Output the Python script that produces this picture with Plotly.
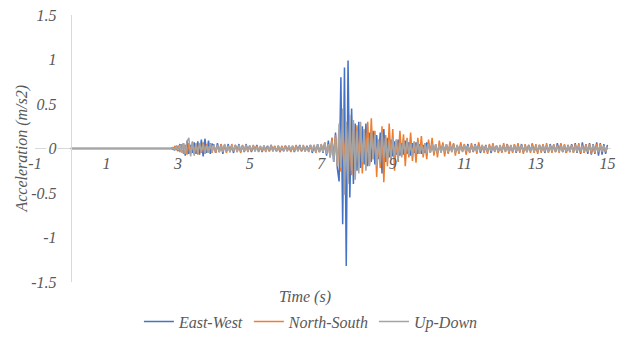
import numpy as np
import plotly.graph_objects as go

# Sample times: a quiet record from 0 s, then samples every 0.05 s from 2.8 s to 15.0 s
t_start, t_step, n_samples = 2.8, 0.05, 245
time = [0.0] + [round(t_start + t_step * i, 2) for i in range(n_samples)]

east_west = [0.0,
    0.0, 0.01, -0.02, 0.03,
    -0.03, 0.05, -0.04, 0.06, -0.08, 0.09, -0.06, 0.04, -0.05, 0.07, -0.06, 0.08, -0.07, 0.10, -0.09, 0.11, -0.05, 0.09, -0.06, 0.05,
    0.04, -0.05, 0.06, -0.04, 0.05, -0.06, 0.04, -0.03, 0.05, -0.04, 0.03, -0.05, 0.04, -0.03, 0.05, -0.04, 0.03, -0.04, 0.05, -0.03,
    0.03, -0.04, 0.03, -0.03, 0.04, -0.03, 0.02, -0.04, 0.03, -0.02, 0.03, -0.03, 0.04, -0.03, 0.02, -0.03, 0.03, -0.04, 0.02, -0.03,
    0.03, -0.02, 0.03, -0.03, 0.02, -0.04, 0.03, -0.02, 0.04, -0.03, 0.02, -0.03, 0.03, -0.02, 0.04, -0.05, 0.03, -0.04, 0.05, -0.04,
    0.04, -0.05, 0.06, -0.08, 0.09, -0.10, 0.12, -0.15, 0.18, -0.22, -0.37, 0.80, -0.85, 0.91, -1.32, 0.99, -0.55, 0.45, -0.40, 0.28,
    -0.25, 0.30, -0.22, 0.25, -0.18, 0.28, -0.20, 0.18, -0.15, 0.20, -0.18, 0.15, -0.12, 0.18, -0.28, 0.22, -0.15, 0.12, -0.10, 0.10,
    -0.09, 0.08, -0.07, 0.10, -0.08, 0.06, -0.07, 0.09, -0.06, 0.07, -0.08, 0.06, -0.05, 0.07, -0.06, 0.05, -0.06, 0.04, -0.05, 0.06,
    0.05, -0.04, 0.06, -0.05, 0.04, -0.05, 0.03, -0.04, 0.05, -0.03, 0.04, -0.05, 0.04, -0.03, 0.05, -0.04, 0.03, -0.04, 0.05, -0.03,
    0.04, -0.03, 0.05, -0.04, 0.03, -0.04, 0.05, -0.03, 0.04, -0.05, 0.03, -0.03, 0.04, -0.04, 0.03, -0.05, 0.04, -0.03, 0.03, -0.04,
    0.03, -0.04, 0.04, -0.03, 0.05, -0.04, 0.03, -0.03, 0.04, -0.05, 0.04, -0.03, 0.05, -0.04, 0.03, -0.04, 0.04, -0.03, 0.05, -0.04,
    0.03, -0.04, 0.04, -0.03, 0.04, -0.05, 0.03, -0.04, 0.05, -0.03, 0.04, -0.04, 0.06, -0.03, 0.05, -0.04, 0.03, -0.05, 0.04, -0.04,
    0.05, -0.04, 0.06, -0.05, 0.04, -0.06, 0.07, -0.05, 0.05, -0.06, 0.06, -0.07, 0.05, -0.06, 0.07, -0.08, 0.06, -0.07, 0.05, -0.06,
    0.04]

north_south = [0.0,
    0.0, -0.01, 0.02, -0.02,
    0.03, -0.04, 0.05, -0.06, 0.04, -0.07, 0.06, -0.05, 0.08, -0.06, 0.05, -0.07, 0.06, -0.05, 0.07, -0.06, 0.05, -0.04, 0.06, -0.05,
    0.04, -0.05, 0.03, -0.04, 0.05, -0.03, 0.04, -0.05, 0.03, -0.04, 0.05, -0.03, 0.04, -0.04, 0.03, -0.05, 0.04, -0.03, 0.04, -0.04,
    0.03, -0.03, 0.04, -0.02, 0.03, -0.04, 0.02, -0.03, 0.03, -0.04, 0.02, -0.03, 0.04, -0.02, 0.03, -0.03, 0.02, -0.04, 0.03, -0.02,
    0.03, -0.03, 0.02, -0.04, 0.03, -0.02, 0.04, -0.03, 0.02, -0.03, 0.04, -0.03, 0.02, -0.04, 0.03, -0.03, 0.04, -0.05, 0.03, -0.04,
    0.05, -0.03, 0.07, -0.05, 0.04, -0.09, 0.12, -0.08, 0.15, -0.20, 0.10, -0.26, 0.18, -0.12, 0.28, -0.22, 0.15, -0.30, 0.20, -0.10,
    0.26, -0.15, 0.12, -0.28, 0.20, -0.08, 0.30, -0.18, 0.34, -0.12, 0.20, -0.32, 0.10, -0.22, 0.25, -0.38, 0.15, -0.20, 0.28, -0.12,
    0.22, -0.25, 0.10, -0.15, 0.20, -0.08, 0.16, -0.20, 0.12, -0.10, 0.18, -0.14, 0.08, -0.16, 0.12, -0.06, 0.14, -0.10, 0.06, -0.12,
    0.10, -0.05, 0.12, -0.08, 0.05, -0.10, 0.09, -0.04, 0.07, -0.09, 0.05, -0.06, 0.08, -0.04, 0.06, -0.08, 0.04, -0.06, 0.07, -0.03,
    0.05, -0.07, 0.03, -0.05, 0.06, -0.03, 0.04, -0.06, 0.07, -0.02, 0.04, -0.05, 0.03, -0.06, 0.05, -0.03, 0.06, -0.04, 0.03, -0.05,
    0.04, -0.05, 0.06, -0.04, 0.05, -0.06, 0.04, -0.05, 0.05, -0.04, 0.06, -0.05, 0.04, -0.06, 0.05, -0.04, 0.04, -0.05, 0.06, -0.05,
    0.05, -0.06, 0.04, -0.05, 0.05, -0.04, 0.06, -0.05, 0.04, -0.05, 0.05, -0.04, 0.04, -0.05, 0.06, -0.04, 0.05, -0.05, 0.04, -0.04,
    0.04, -0.05, 0.05, -0.04, 0.06, -0.05, 0.04, -0.05, 0.05, -0.04, 0.05, -0.06, 0.04, -0.05, 0.05, -0.04, 0.05, -0.04, 0.03, -0.04,
    0.02]

up_down = [0.0,
    0.0, 0.01, -0.01, 0.02,
    -0.02, 0.04, -0.05, 0.06, -0.06, 0.08, 0.12, -0.09, 0.07, -0.08, 0.06, -0.05, 0.06, -0.04, 0.05, -0.06, 0.04, -0.05, 0.05, -0.04,
    0.04, -0.03, 0.04, -0.04, 0.03, -0.04, 0.05, -0.03, 0.03, -0.04, 0.04, -0.03, 0.03, -0.04, 0.04, -0.03, 0.03, -0.03, 0.04, -0.03,
    0.03, -0.02, 0.03, -0.03, 0.02, -0.03, 0.03, -0.02, 0.03, -0.03, 0.02, -0.02, 0.03, -0.03, 0.02, -0.03, 0.03, -0.02, 0.02, -0.03,
    0.02, -0.03, 0.03, -0.02, 0.03, -0.03, 0.02, -0.03, 0.03, -0.02, 0.03, -0.03, 0.02, -0.03, 0.04, -0.03, 0.04, -0.04, 0.05, -0.04,
    0.05, -0.04, 0.07, -0.06, 0.05, -0.10, 0.08, -0.15, 0.12, -0.20, 0.28, -0.22, 0.45, -0.52, 0.30, -0.40, 0.38, -0.25, 0.32, -0.35,
    0.20, -0.28, 0.30, -0.15, 0.22, -0.25, 0.12, -0.20, 0.20, -0.12, 0.16, -0.20, 0.10, -0.16, 0.18, -0.10, 0.12, -0.15, 0.08, -0.12,
    0.12, -0.08, 0.10, -0.12, 0.06, -0.10, 0.09, -0.06, 0.10, -0.07, 0.05, -0.09, 0.07, -0.05, 0.08, -0.06, 0.04, -0.07, 0.06, -0.05,
    0.05, -0.05, 0.05, -0.04, 0.05, -0.05, 0.04, -0.05, 0.04, -0.04, 0.05, -0.04, 0.04, -0.04, 0.04, -0.05, 0.04, -0.04, 0.03, -0.04,
    0.04, -0.03, 0.03, -0.04, 0.03, -0.03, 0.04, -0.03, 0.03, -0.03, 0.04, -0.03, 0.03, -0.04, 0.03, -0.03, 0.04, -0.03, 0.03, -0.03,
    0.03, -0.03, 0.04, -0.03, 0.03, -0.04, 0.03, -0.03, 0.04, -0.03, 0.03, -0.03, 0.04, -0.03, 0.03, -0.04, 0.03, -0.03, 0.03, -0.04,
    0.03, -0.03, 0.04, -0.03, 0.03, -0.03, 0.04, -0.04, 0.03, -0.03, 0.04, -0.03, 0.03, -0.04, 0.03, -0.03, 0.04, -0.03, 0.03, -0.03,
    0.03, -0.04, 0.03, -0.03, 0.04, -0.03, 0.03, -0.04, 0.03, -0.03, 0.04, -0.03, 0.04, -0.04, 0.03, -0.04, 0.04, -0.03, 0.03, -0.03,
    0.02]

series_names = ["East-West", "North-South", "Up-Down"]
series_values = [east_west, north_south, up_down]
series_colors = ["#4472C4", "#ED7D31", "#A5A5A5"]

x_tick_values = [-1, 1, 3, 5, 7, 9, 11, 13, 15]
x_tick_labels = ["-1", "1", "3", "5", "7", "9", "11", "13", "15"]
y_tick_values = [-1.5, -1, -0.5, 0, 0.5, 1, 1.5]
y_tick_labels = ["-1.5", "-1", "-0.5", "0", "0.5", "1", "1.5"]

x_range = [-1, 15.1]
y_range = [-1.5, 1.5]

text_color = "#595959"
font_family = "Times New Roman, Liberation Serif, serif"

fig = go.Figure()
for name, vals, col in zip(series_names, series_values, series_colors):
    fig.add_trace(go.Scatter(x=time, y=vals, mode="lines", name=name,
                             line=dict(color=col, width=1.5)))

# paper positions where the axes cross (time 0 and acceleration 0)
y_axis_pos = (0 - x_range[0]) / (x_range[1] - x_range[0])
x_axis_pos = (0 - y_range[0]) / (y_range[1] - y_range[0])

label_font = dict(family=font_family, size=16, color=text_color, style="italic")

fig.update_layout(
    width=619, height=343,
    margin=dict(l=35, r=4, t=15, b=58),
    paper_bgcolor="white", plot_bgcolor="white",
    font=label_font,
    showlegend=True,
    legend=dict(orientation="h", x=0.479, xanchor="center", y=-0.148, yanchor="middle",
                font=label_font, bgcolor="rgba(0,0,0,0)", itemwidth=30, tracegroupgap=0),
    xaxis=dict(range=x_range, tickmode="array", tickvals=x_tick_values, ticktext=x_tick_labels,
               showgrid=False, zeroline=False, showline=False, ticks="",
               anchor="free", position=x_axis_pos, tickfont=label_font,
               ticklabelstandoff=3, ticklabeloverflow="allow"),
    yaxis=dict(range=y_range, tickmode="array", tickvals=y_tick_values, ticktext=y_tick_labels,
               showgrid=False, zeroline=False, showline=True, linecolor="#D9D9D9", linewidth=1,
               ticks="", anchor="free", position=y_axis_pos, tickfont=label_font,
               ticklabelstandoff=11, ticklabeloverflow="allow"),
)

# horizontal axis line along y = 0 (interrupted behind the "0" label, as in the original)
fig.add_shape(type="line", xref="x", yref="y", x0=-1, x1=-0.68, y0=0, y1=0,
              line=dict(color="#D9D9D9", width=1), layer="below")
fig.add_shape(type="line", xref="x", yref="y", x0=-0.38, x1=x_range[1], y0=0, y1=0,
              line=dict(color="#D9D9D9", width=1), layer="below")

fig.add_annotation(text="Time (s)", xref="paper", yref="paper", x=0.5 - 18/580, y=-0.015,
                   xanchor="center", yanchor="top", showarrow=False, font=label_font)
fig.add_annotation(text="Acceleration (m/s2)", xref="paper", yref="paper", x=-14/580, y=0.5,
                   textangle=-90, xanchor="center", yanchor="middle", showarrow=False,
                   font=label_font)

fig.write_html("out.html")
